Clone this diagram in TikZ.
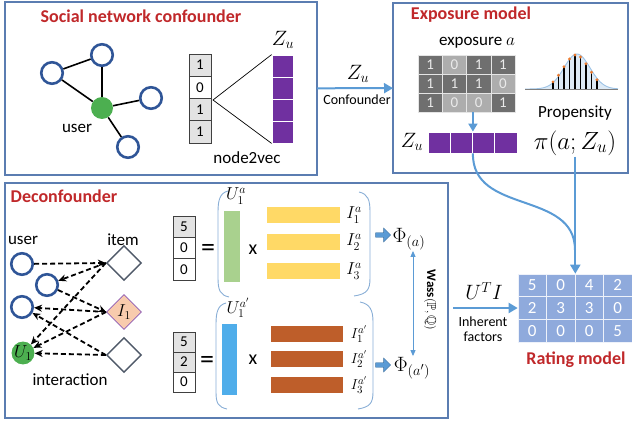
\documentclass[tikz,border=0pt]{standalone}
\usepackage{amsmath,amssymb}
\usepackage{fontspec}
\setmainfont{Carlito}
\usetikzlibrary{arrows.meta,shapes.geometric,shapes.arrows,positioning}

\definecolor{BoxBlue}{HTML}{5B7DB1}
\definecolor{FlowBlue}{HTML}{5B9BD5}
\definecolor{TitleRed}{HTML}{C0282A}
\definecolor{NodeBlue}{HTML}{2F5597}
\definecolor{UserGreen}{HTML}{4CAF50}
\definecolor{ZPurple}{HTML}{7030A0}
\definecolor{CellGray}{HTML}{E3E3E3}
\definecolor{ExpDark}{HTML}{6F6F6F}
\definecolor{ExpLight}{HTML}{ADADAD}
\definecolor{RateBlue}{HTML}{8FAADC}
\definecolor{BarGreen}{HTML}{A9D18E}
\definecolor{BarYellow}{HTML}{FFD966}
\definecolor{BarBlue}{HTML}{4FADEA}
\definecolor{BarBrown}{HTML}{BE5E2A}
\definecolor{ItemPeach}{HTML}{F8CBAD}
\definecolor{ItemGray}{HTML}{4F5968}
\definecolor{PropBlue}{HTML}{9DC3E6}
\definecolor{DotOrange}{HTML}{ED7D31}

\tikzstyle{panel}=[draw=BoxBlue, line width=1.2pt, inner sep=0pt, outer sep=0pt]
\tikzstyle{panel-title}=[text=TitleRed, font=\fontsize{18}{20}\selectfont\bfseries]
\tikzstyle{txt}=[font=\fontsize{17}{19}\selectfont, inner sep=1pt]
\tikzstyle{small-txt}=[font=\fontsize{14}{15}\selectfont, inner sep=1pt]
\tikzstyle{math-txt}=[font=\fontsize{22}{23}\selectfont, inner sep=1pt]
\tikzstyle{sn-node}=[circle, draw=NodeBlue, line width=2.6pt, minimum size=21.5pt, inner sep=0pt, fill=white]
\tikzstyle{user-node}=[circle, fill=UserGreen, minimum size=22pt, inner sep=0pt, font=\fontsize{17}{17}\selectfont]
\tikzstyle{item-node}=[diamond, draw=ItemGray, line width=1.4pt, minimum width=35pt, minimum height=35pt, inner sep=0pt, fill=white]
\tikzstyle{vec-cell}=[draw=black!75, line width=0.6pt, minimum width=22pt, inner sep=0pt, font=\fontsize{15}{15}\selectfont]
\tikzstyle{z-cell}=[fill=ZPurple, draw=white, line width=0.8pt, inner sep=0pt]
\tikzstyle{exp-cell}=[draw=white!80!gray, line width=0.4pt, minimum width=24.25pt, minimum height=19pt, inner sep=0pt, text=white!92!black, font=\fontsize{15}{15}\selectfont]
\tikzstyle{rate-cell}=[fill=RateBlue, draw=white!85!RateBlue, line width=0.6pt, minimum width=28.5pt, minimum height=22.67pt, inner sep=0pt, text=white, font=\fontsize{17}{17}\selectfont]
\tikzstyle{bar}=[inner sep=0pt, minimum height=16pt]
\tikzstyle{flow}=[draw=FlowBlue, line width=2pt, -{Triangle[length=9pt,width=10pt]}]
\tikzstyle{bip}=[dashed, dash pattern=on 5pt off 3pt, line width=1.8pt, -{Stealth[length=8pt,width=7pt]}]
\tikzstyle{brace}=[draw=PropBlue!70!BoxBlue, line width=0.9pt]
\tikzstyle{fat-arrow}=[single arrow, fill=FlowBlue, draw=FlowBlue!75!black, line width=0.4pt, minimum height=15pt, minimum width=14pt, single arrow head extend=2.5pt, inner sep=1pt]
\tikzstyle{big-math}=[font=\fontsize{22}{23}\selectfont, inner sep=1pt]
\tikzstyle{sub-math}=[font=\fontsize{17}{17}\selectfont, inner sep=0pt]

\begin{document}
\begin{tikzpicture}[x=1pt,y=-1pt]
  \useasboundingbox (0,0) rectangle (632,422);

  % panels
  \node (panel-social) at (161,88.5) [panel, minimum width=312pt, minimum height=173pt] {};
  \node (panel-exposure) at (510.5,88) [panel, minimum width=235pt, minimum height=170pt] {};
  \node (panel-deconf) at (226.5,300.5) [panel, minimum width=443pt, minimum height=235pt] {};

  \node (title-social) at (141,16) [panel-title] {Social network confounder};
  \node (title-exposure) at (471,15) [panel-title] {Exposure model};
  \node (title-deconf) at (64,196) [panel-title] {Deconfounder};
  \node (title-rating) at (576,360) [panel-title] {Rating model};

  % social network
  \node (sn-top) at (102,55) [sn-node] {};
  \node (sn-left) at (52,73) [sn-node] {};
  \node (sn-right) at (151,98) [sn-node] {};
  \node (sn-bottom) at (128,147) [sn-node] {};
  \node (sn-user) at (102,108) [user-node] {};
  \draw[line width=1.6pt] (sn-left) -- (sn-top);
  \draw[line width=1.6pt] (sn-left) -- (sn-user);
  \draw[line width=1.6pt] (sn-top) -- (sn-user);
  \draw[line width=1.6pt] (sn-user) -- (sn-right);
  \draw[line width=1.6pt] (sn-user) -- (sn-bottom);
  \node (sn-label) at (77,128) [txt] {user};

  % node2vec
  \foreach \i/\v/\f in {1/1/CellGray,2/0/white,3/1/CellGray,4/1/CellGray}
    \node (vec-\i) at (200,{42.9+22.25*\i}) [vec-cell, fill=\f, minimum height=22.25pt] {\v};
  \foreach \i in {1,...,4}
    \node (z-\i) at (282.5,{44+22*\i}) [z-cell, minimum width=21pt, minimum height=22pt] {};
  \coordinate (n2v-apex) at (213,100);
  \draw[line width=0.7pt] (z-1.north west) -- (n2v-apex) -- (z-4.south west);
  \node (z-label) at (283,40) [math-txt] {$Z_u$};
  \node (n2v-label) at (247,158) [txt] {node2vec};

  % confounder arrow
  \draw[flow] (panel-social) -- (panel-exposure);
  \node (conf-z) at (358,74) [math-txt] {$Z_u$};
  \node (conf-label) at (357,100) [small-txt] {Confounder};

  % exposure matrix
  \node (exp-label) at (477,43) [txt] {exposure $a$};
  \foreach \r/\c/\v/\f in {1/1/1/ExpDark,1/2/0/ExpLight,1/3/1/ExpDark,1/4/1/ExpDark,
                           2/1/1/ExpDark,2/2/1/ExpDark,2/3/1/ExpDark,2/4/0/ExpLight,
                           3/1/1/ExpDark,3/2/0/ExpLight,3/3/0/ExpLight,3/4/1/ExpDark}
    \node (exp-\r-\c) at ({405.9+24.25*\c},{45.5+19*\r}) [exp-cell, fill=\f] {\v};
  \foreach \i in {1,...,4}
    \node (ez-\i) at ({416.9+22.25*\i},142.5) [z-cell, minimum width=22.25pt, minimum height=21pt] {};
  \node (ez-label) at (412,142) [math-txt] {$Z_u$};
  \draw[flow, line width=1.8pt, -{Triangle[length=8pt,width=9pt]}] (exp-3-3.south -| ez-2.north east) -- (ez-2.north east);

  % propensity
  \fill[PropBlue!35] plot[domain=525:618, samples=60] (\x,{89-35*exp(-((\x-577)^2)/(2*13^2))}) -- cycle;
  \draw[PropBlue, line width=0.9pt] plot[domain=525:618, samples=60] (\x,{89-35*exp(-((\x-577)^2)/(2*13^2))});
  \foreach \k in {0,...,8} {
    \pgfmathsetmacro\sx{553+5.5*\k}
    \pgfmathsetmacro\sy{89-34*exp(-((\sx-576)^2)/(2*13^2))}
    \draw[black, line width=1.1pt] (\sx,89) -- (\sx,\sy);
    \fill[DotOrange] (\sx,\sy) circle (1.6pt);
  }
  \draw[gray, line width=0.9pt] (525,89) -- (618,89);
  \node (prop-label) at (575,113) [txt] {Propensity};
  \node (prop-pi) at (575,143) [font=\fontsize{24}{26}\selectfont, inner sep=1pt] {$\pi(a;Z_u)$};

  % rating matrix
  \foreach \r/\c/\v in {1/1/5,1/2/0,1/3/4,1/4/2,2/1/2,2/2/3,2/3/3,2/4/0,3/1/0,3/2/0,3/3/0,3/4/5}
    \node (rm-\r-\c) at ({503.75+28.5*\c},{262.67+22.67*\r}) [rate-cell] {\v};

  % into rating model
  \draw[flow] (prop-pi.south -| rm-1-2.north east) -- (rm-1-2.north east);
  \coordinate (join) at (575,250);
  \draw[draw=FlowBlue, line width=2pt] (ez-2.south east) .. controls (472,215) and (575,190) .. (join);
  \draw[flow] ([xshift=5pt]panel-deconf.east |- rm-2-1.west) -- (rm-2-1.west);
  \node (ut-label) at (484,291) [font=\fontsize{21}{22}\selectfont] {$U^T I$};
  \node (ut-inh) at (483,322) [small-txt] {Inherent};
  \node (ut-fac) at (483,337) [small-txt] {factors};

  % interaction graph
  \node (bi-userlabel) at (23,240) [txt] {user};
  \node (bi-itemlabel) at (123,240) [txt] {item};
  \node (bi-u1) at (22,264) [sn-node] {};
  \node (bi-u2) at (47,285) [sn-node] {};
  \node (bi-u3) at (22,307) [sn-node] {};
  \node (bi-U1) at (23,353) [user-node] {$U_1$};
  \node (bi-i1) at (124,263) [item-node] {};
  \node (bi-I1) at (124,312) [item-node, fill=ItemPeach, draw=ZPurple!80, line width=0.8pt, font=\fontsize{18}{18}\selectfont] {$I_1$};
  \node (bi-i3) at (124,355) [item-node] {};
  \draw[bip] (bi-u1) -- (bi-i1.west);
  \draw[bip] (bi-i1.west) -- (bi-u2);
  \draw[bip] (bi-u2) -- (bi-I1.west);
  \draw[bip] (bi-I1.west) -- (bi-u3);
  \draw[bip] (bi-i3.west) -- (bi-u3);
  \draw[bip] (bi-i1.west) -- (bi-U1);
  \draw[bip] (bi-I1.west) -- (bi-U1);
  \draw[bip] (bi-i3.west) -- (bi-U1);
  \node (bi-label) at (70,380) [txt] {interaction};

  % factorisation, exposure a
  \foreach \i/\v/\f in {1/5/CellGray,2/0/white,3/0/white}
    \node (ra-\i) at (184,{205.3+21.33*\i}) [vec-cell, fill=\f, minimum height=21.33pt] {\v};
  \node (eq-a) at (208,250) [font=\fontsize{28}{28}\selectfont] {=};
  \draw[brace] (228,191) .. controls (220,193) and (218,200) .. (218,212) -- (218,278) .. controls (218,290) and (220,295) .. (229,297);
  \draw[brace] (359,192) .. controls (368,194) and (370,200) .. (370,212) -- (370,278) .. controls (370,290) and (367,294) .. (354,296);
  \node (ua-label) at (236,196) [sub-math] {$U_1^a$};
  \node (ua-bar) at (232,246.5) [bar, fill=BarGreen, minimum width=16pt, minimum height=71pt] {};
  \node (xa) at (253,250) [font=\fontsize{20}{20}\selectfont] {x};
  \foreach \i/\y in {1/215,2/242,3/271} {
    \node (ia-\i) at (303.5,\y) [bar, fill=BarYellow, minimum width=73pt] {};
    \node (ia-l\i) at (354,\y) [sub-math] {$I_\i^a$};
  }
  \node (fa-a) at (382,235) [fat-arrow] {};
  \node (phi-a) at (409,239) [big-math] {$\Phi_{(a)}$};

  % factorisation, exposure a'
  \foreach \i/\v/\f in {1/5/CellGray,2/2/CellGray,3/0/white}
    \node (rb-\i) at (184,{322+20*\i}) [vec-cell, fill=\f, minimum height=20pt] {\v};
  \node (eq-b) at (207,362) [font=\fontsize{28}{28}\selectfont] {=};
  \draw[brace] (226,303) .. controls (218,305) and (216,312) .. (216,324) -- (216,392) .. controls (216,403) and (218,407) .. (227,409);
  \draw[brace] (360,302) .. controls (370,304) and (373,310) .. (373,322) -- (373,392) .. controls (373,403) and (370,407) .. (358,409);
  \node (ub-label) at (238,308) [sub-math] {$U_1^{a'}$};
  \node (ub-bar) at (229.5,359.5) [bar, fill=BarBlue, minimum width=15pt, minimum height=71pt] {};
  \node (xb) at (253,360) [font=\fontsize{20}{20}\selectfont] {x};
  \foreach \i/\y in {1/334,2/359,3/385} {
    \node (ib-\i) at (307,\y) [bar, fill=BarBrown, minimum width=72pt] {};
    \node (ib-l\i) at (359,\y) [sub-math, font=\fontsize{15}{15}\selectfont] {$I_\i^{a'}$};
  }
  \node (fa-b) at (382,365) [fat-arrow] {};
  \node (phi-b) at (412,368) [big-math] {$\Phi_{(a')}$};

  % wasserstein
  \draw[FlowBlue, line width=0.9pt, {Triangle[length=6pt,width=5pt]}-{Triangle[length=6pt,width=5pt]}] ([xshift=4pt]phi-a.south) -- ([xshift=1pt]phi-b.north);
  \node (wass) at (430,300) [rotate=-90, font=\fontsize{13}{13}\selectfont] {$\mathbf{Wass}(\mathbb{P},\mathbb{Q})$};
\end{tikzpicture}
\end{document}
